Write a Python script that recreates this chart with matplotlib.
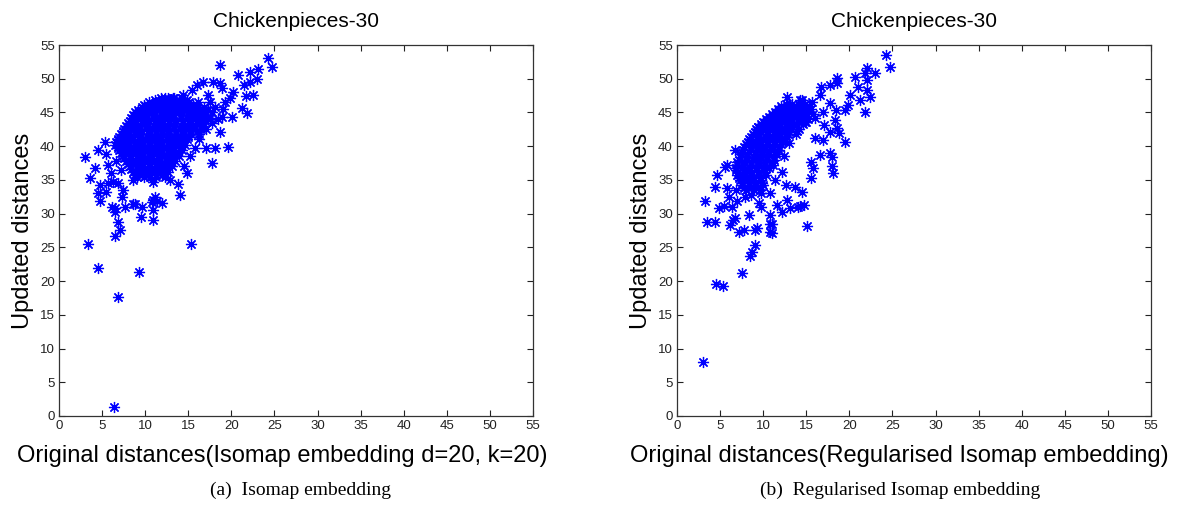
import numpy as np
import matplotlib
matplotlib.use('Agg')
import matplotlib.pyplot as plt

# Panel (a): Isomap embedding -- dense core given as rows (y level, x positions)
a_core_rows = [
    (47.2, [11.8, 12.7, 13.4, 14.3]),
    (46.8, [11.1, 12.2, 13.0, 13.9, 14.8]),
    (46.5, [10.5, 11.3, 12.0, 12.9, 13.6, 14.5, 15.1, 16.1]),
    (46.1, [9.9, 10.8, 11.6, 12.5, 13.2, 14.0, 14.9, 15.6]),
    (45.8, [9.6, 10.3, 11.2, 12.1, 12.8, 13.7, 14.4, 15.3, 16.0, 16.8]),
    (45.4, [9.2, 10.0, 10.8, 11.6, 12.4, 13.2, 14.0, 14.8, 15.7, 16.4, 17.3]),
    (45.0, [8.8, 9.7, 10.4, 11.1, 12.0, 12.9, 13.6, 14.3, 15.2, 16.1, 16.9, 17.8]),
    (44.6, [8.6, 9.4, 10.2, 11.0, 11.8, 12.6, 13.4, 14.2, 15.0, 15.9, 16.7]),
    (44.2, [8.4, 9.1, 10.0, 10.9, 11.6, 12.3, 13.2, 14.1, 14.8, 15.6, 16.4, 17.3]),
    (43.8, [8.2, 8.8, 9.6, 10.5, 11.2, 12.0, 12.8, 13.6, 14.4, 15.2, 16.0, 16.9]),
    (43.4, [8.0, 8.9, 9.6, 10.3, 11.2, 12.1, 12.8, 13.5, 14.4, 15.3, 16.0, 16.7, 17.8]),
    (43.0, [7.8, 8.6, 9.4, 10.2, 11.0, 11.8, 12.6, 13.4, 14.2, 15.0, 15.8, 16.6]),
    (42.6, [7.6, 8.3, 9.2, 10.1, 10.8, 11.5, 12.4, 13.3, 14.0, 14.7, 15.6, 16.5]),
    (42.2, [7.4, 8.0, 8.8, 9.6, 10.4, 11.2, 12.0, 12.8, 13.6, 14.4, 15.2, 16.0]),
    (41.8, [7.2, 8.1, 8.8, 9.5, 10.4, 11.3, 12.0, 12.7, 13.6, 14.5, 15.3, 16.2]),
    (41.4, [7.0, 7.8, 8.6, 9.4, 10.2, 11.0, 11.8, 12.6, 13.4, 14.2, 15.0]),
    (41.0, [6.8, 7.5, 8.4, 9.3, 10.0, 10.7, 11.6, 12.5, 13.2, 13.9, 14.9]),
    (40.6, [6.6, 7.2, 8.0, 8.8, 9.6, 10.4, 11.2, 12.0, 12.8, 13.6, 14.4]),
    (40.2, [6.5, 7.4, 8.1, 8.8, 9.7, 10.6, 11.3, 12.0, 12.9, 13.8, 14.6]),
    (39.8, [6.8, 7.6, 8.4, 9.2, 10.0, 10.8, 11.6, 12.4, 13.2, 14.0]),
    (39.4, [7.0, 7.7, 8.6, 9.5, 10.2, 10.9, 11.8, 12.7, 13.4, 14.3]),
    (39.0, [7.2, 8.0, 8.8, 9.6, 10.4, 11.2, 12.0, 12.8, 13.6]),
    (38.6, [7.4, 8.3, 9.0, 9.7, 10.6, 11.5, 12.2, 12.9, 13.9]),
    (38.2, [7.6, 8.4, 9.2, 10.0, 10.8, 11.6, 12.4, 13.2]),
    (37.8, [7.8, 8.5, 9.4, 10.3, 11.0, 11.7, 12.6, 13.5]),
    (37.4, [8.0, 8.8, 9.6, 10.4, 11.2, 12.0, 12.8]),
    (37.0, [8.2, 9.1, 9.8, 10.5, 11.4, 12.3, 13.1]),
    (36.6, [8.4, 9.2, 10.0, 10.8, 11.6, 12.4]),
    (36.2, [8.6, 9.3, 10.2, 11.1, 11.8, 12.7]),
    (35.8, [8.8, 9.6, 10.4, 11.2, 12.0]),
    (35.4, [9.0, 9.9, 10.6, 11.3, 12.3]),
]
a_extra = [
    (24.2, 53.1), (24.7, 51.8), (18.7, 52.0), (23.1, 51.4), (22.2, 51.0), (20.8, 50.6),
    (22.2, 49.5), (22.5, 47.6), (16.7, 49.5), (16.0, 49.1), (17.9, 49.5), (18.7, 49.3),
    (19.8, 47.1), (20.2, 48.0), (21.2, 45.7), (21.8, 44.9), (20.1, 44.3), (18.7, 42.1),
    (19.6, 39.9), (15.8, 39.7), (17.0, 39.7), (18.1, 39.7), (18.9, 48.6), (19.3, 46.6),
    (18.1, 45.8), (18.9, 44.3), (17.3, 47.6), (15.4, 48.3), (17.7, 37.5), (14.8, 36.0),
    (14.0, 32.8), (21.5, 49.0), (23.0, 50.0), (21.7, 47.4), (19.0, 45.5), (18.5, 44.0),
    (17.5, 46.5), (14.4, 47.6), (13.2, 47.1), (12.3, 47.1), (10.8, 45.6), (8.6, 43.6),
    (6.8, 40.9), (3.0, 38.4), (3.6, 35.3), (4.5, 39.4), (5.3, 40.6), (4.8, 34.2),
    (4.5, 33.1), (4.8, 31.8), (5.7, 37.2), (6.3, 34.7), (6.8, 34.5), (6.5, 30.8),
    (7.7, 31.0), (8.8, 31.5), (9.6, 31.0), (10.9, 32.0), (11.1, 32.5), (11.4, 31.8),
    (10.9, 29.1), (9.5, 29.5), (10.9, 34.7), (12.9, 35.0), (8.6, 35.0), (7.4, 33.5),
    (5.7, 34.5), (5.4, 33.2), (7.3, 32.5), (6.1, 31.0), (6.5, 30.3), (6.8, 28.8),
    (6.5, 26.7), (7.1, 27.6), (11.9, 31.6), (10.8, 31.7), (10.9, 30.5), (8.6, 31.5),
    (6.0, 36.0), (6.6, 37.8), (5.5, 38.8), (7.2, 36.4), (13.8, 34.4), (14.5, 37.0),
    (15.2, 38.5), (16.2, 41.0), (17.0, 42.5), (17.5, 44.2), (16.3, 44.9), (4.2, 36.8),
]
a_outliers = [
    (3.4, 25.5), (4.5, 21.9), (9.3, 21.4), (15.3, 25.5), (6.8, 17.7), (6.4, 1.3),
]

# Panel (b): Regularised Isomap embedding
b_core_rows = [
    (46.2, [12.6, 13.4, 14.1, 14.9]),
    (45.9, [12.1, 13.0, 13.8, 14.5, 15.3]),
    (45.5, [11.7, 12.4, 13.2, 14.1, 14.8, 15.6]),
    (45.1, [11.4, 12.2, 12.9, 13.7, 14.5, 15.3]),
    (44.8, [11.0, 11.9, 12.6, 13.3, 14.2, 14.9, 15.8]),
    (44.4, [10.7, 11.5, 12.3, 13.0, 13.8, 14.7]),
    (44.0, [10.3, 11.1, 12.0, 12.7, 13.4, 14.3, 15.2]),
    (43.6, [10.0, 10.8, 11.6, 12.4, 13.2, 14.0, 14.8]),
    (43.3, [9.7, 10.6, 11.3, 12.0, 12.9, 13.8, 14.6]),
    (42.9, [9.4, 10.2, 11.0, 11.8, 12.6, 13.4]),
    (42.5, [9.2, 10.0, 10.7, 11.6, 12.5, 13.2, 14.1]),
    (42.1, [9.0, 9.8, 10.6, 11.4, 12.2, 13.0]),
    (41.8, [8.8, 9.5, 10.4, 11.3, 12.0, 12.9, 13.8]),
    (41.4, [8.6, 9.4, 10.2, 11.0, 11.8, 12.6]),
    (41.0, [8.4, 9.3, 10.0, 10.7, 11.6, 12.5]),
    (40.6, [8.2, 9.0, 9.8, 10.6, 11.4, 12.2]),
    (40.3, [8.0, 8.7, 9.6, 10.5, 11.2, 12.1]),
    (39.9, [7.8, 8.6, 9.4, 10.2, 11.0, 11.8]),
    (39.5, [7.7, 8.6, 9.3, 10.0, 10.9, 11.8]),
    (39.1, [7.5, 8.3, 9.1, 9.9, 10.7, 11.4]),
    (38.8, [7.4, 8.1, 9.0, 9.9, 10.6, 11.5]),
    (38.4, [7.3, 8.1, 8.9, 9.7, 10.5, 11.2]),
    (38.0, [7.2, 8.1, 8.8, 9.5, 10.4, 11.3]),
    (37.6, [7.0, 7.8, 8.6, 9.4, 10.2, 11.0]),
    (37.2, [7.0, 7.7, 8.6, 9.5, 10.2, 11.1]),
    (36.8, [6.9, 7.6, 8.4, 9.2, 10.0, 10.7]),
    (36.5, [6.9, 7.8, 8.5, 9.2, 10.1]),
    (36.1, [7.1, 7.9, 8.7, 9.5, 10.2]),
    (35.7, [7.0, 7.7, 8.6, 9.5, 10.3]),
    (35.3, [7.2, 8.0, 8.8, 9.6]),
    (35.0, [7.3, 8.2, 8.9, 9.6]),
    (34.6, [7.5, 8.3, 9.1, 9.9]),
    (34.2, [7.6, 8.3, 9.2, 10.0]),
    (33.8, [7.8, 8.6, 9.4]),
    (33.5, [8.0, 8.9, 9.6]),
]
b_extra = [
    (24.2, 53.5), (24.7, 51.8), (22.1, 51.6), (23.0, 50.8), (21.8, 50.8), (20.7, 50.3),
    (22.1, 49.8), (18.6, 50.1), (18.6, 49.4), (17.7, 49.1), (16.7, 48.8), (21.0, 48.8),
    (22.1, 48.3), (22.4, 47.3), (20.1, 47.6), (21.2, 46.8), (19.8, 46.1), (19.5, 45.4),
    (21.8, 45.1), (18.4, 45.4), (17.7, 46.4), (16.9, 45.1), (18.3, 43.9), (18.6, 42.7),
    (18.8, 42.0), (19.5, 40.6), (17.7, 42.1), (17.8, 39.0), (16.6, 38.7), (16.0, 41.2),
    (14.5, 46.8), (15.7, 46.6), (12.8, 47.3), (14.3, 46.8), (16.9, 40.9), (18.0, 38.4),
    (18.0, 37.0), (18.1, 36.0), (15.5, 37.7), (15.8, 36.8), (15.5, 35.3), (14.5, 33.2),
    (13.7, 34.0), (12.6, 34.2), (12.8, 32.0), (14.7, 31.3), (14.3, 31.2), (14.0, 31.0),
    (13.1, 30.8), (12.2, 30.3), (11.6, 31.3), (9.7, 31.0), (9.5, 31.6), (9.7, 33.1),
    (10.8, 33.1), (10.8, 29.8), (10.8, 28.5), (10.8, 27.3), (11.0, 27.1), (11.0, 28.4),
    (15.1, 28.2), (8.4, 29.8), (7.2, 27.3), (7.8, 27.6), (9.0, 27.6), (9.3, 27.8),
    (9.1, 25.4), (8.7, 24.3), (8.5, 23.7), (6.7, 29.4), (6.4, 31.0), (4.9, 30.8),
    (5.5, 31.2), (3.3, 31.8), (3.5, 28.8), (4.4, 28.8), (6.2, 28.3), (6.5, 29.0),
    (4.4, 34.0), (4.6, 35.7), (5.6, 36.9), (5.8, 33.8), (5.8, 37.2), (6.7, 39.4),
    (8.5, 40.9), (9.4, 42.8), (10.6, 43.9), (12.0, 45.4), (6.0, 32.5), (6.8, 33.5),
    (7.0, 31.8), (7.9, 32.4), (8.6, 32.8), (11.4, 35.0), (12.2, 36.2), (12.4, 38.6),
    (13.0, 40.5), (13.9, 42.2), (15.0, 43.6), (16.0, 44.2), (16.6, 47.6), (17.0, 43.2),
]
b_outliers = [
    (3.0, 8.0), (4.5, 19.6), (5.3, 19.2), (7.6, 21.2),
]

ticks = np.arange(0, 56, 5)
titles = ['Chickenpieces-30', 'Chickenpieces-30']
xlabels = ['Original distances(Isomap embedding d=20, k=20)',
           'Original distances(Regularised Isomap embedding)']
captions = ['(a)  Isomap embedding', '(b)  Regularised Isomap embedding']


def collect(rows, extra, outliers):
    xs, ys = [], []
    for y, row in rows:
        xs.extend(row)
        ys.extend([y] * len(row))
    for x, y in extra + outliers:
        xs.append(x)
        ys.append(y)
    return np.array(xs), np.array(ys)


panels = [collect(a_core_rows, a_extra, a_outliers),
          collect(b_core_rows, b_extra, b_outliers)]

plt.rcParams['font.family'] = ['Liberation Sans', 'DejaVu Sans']

fig = plt.figure(figsize=(11.79, 5.09), dpi=100)
lefts = [59 / 1179, 677 / 1179]
centers = [300 / 1179, 900 / 1179]

for i, (xs, ys) in enumerate(panels):
    ax = fig.add_axes([lefts[i], 1 - 416 / 509, 474 / 1179, 371 / 509])
    ax.plot(xs, ys, linestyle='none', marker=(8, 2, 0), markersize=8,
            markeredgewidth=0.9, color='#0000ff')
    ax.set_xlim(0, 55)
    ax.set_ylim(0, 55)
    ax.set_xticks(ticks)
    ax.set_yticks(ticks)
    ax.tick_params(direction='in', length=4, width=0.8, top=True, right=True,
                   labelsize=9.5, pad=3, colors='#222222', labelcolor='#222222')
    for s in ax.spines.values():
        s.set_color('#333333')
        s.set_linewidth(0.9)
    ax.set_title(titles[i], fontsize=15, pad=13)
    ax.set_xlabel(xlabels[i], fontsize=17, labelpad=9)
    ax.xaxis.label.set_x(0.47)
    ax.set_ylabel('Updated distances', fontsize=17, labelpad=4)
    fig.text(centers[i], 1 - 490 / 509, captions[i], ha='center', va='center',
             fontsize=14, family=['Liberation Serif', 'DejaVu Serif'])

fig.savefig('out.png', dpi=100, facecolor='white')
